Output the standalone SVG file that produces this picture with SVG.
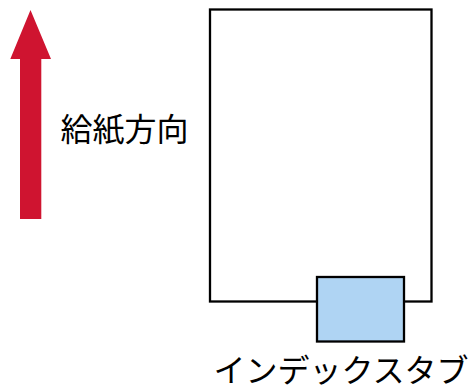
<svg xmlns="http://www.w3.org/2000/svg" width="473" height="389" viewBox="0 0 473 389">
<style>
.lbl{font-family:"Noto Sans CJK JP","Noto Sans",sans-serif;fill:#000}
.box{stroke:#000;stroke-width:2.3}
</style>
<rect width="473" height="389" fill="#fff"/>
<g id="arrow">
<polygon points="30.5,10 51,59 41.3,59 41.3,219 20,219 20,59 10.3,59" fill="#cf1430"/>
</g>
<g id="label-feed">
<text class="lbl" x="60.5" y="141" font-size="32">給紙方向</text>
</g>
<g id="paper">
<rect class="box" x="210" y="9.5" width="221.5" height="292" fill="#fff"/>
</g>
<g id="tab">
<rect class="box" x="317" y="277" width="87" height="64.5" fill="#afd4f3"/>
</g>
<g id="label-tab">
<text class="lbl" x="213.5" y="382" font-size="32">インデックスタブ</text>
</g>
<g id="connectors"/>
</svg>
